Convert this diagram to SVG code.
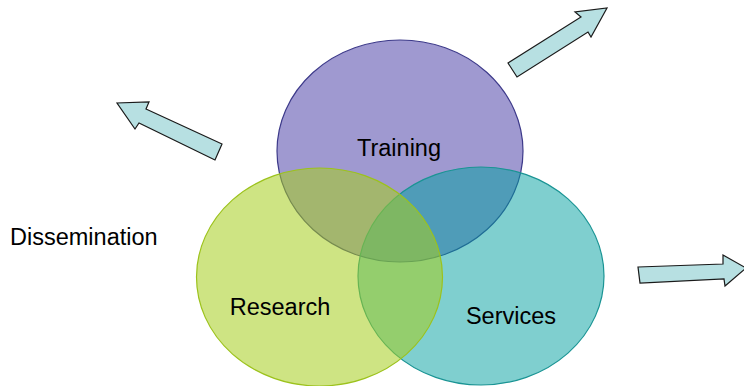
<svg xmlns="http://www.w3.org/2000/svg" width="744" height="386" viewBox="0 0 744 386">
<style>
.lbl{font-family:"Liberation Sans",Arial,sans-serif;font-size:23.5px;fill:#000}
.arr{fill:#b7e0e2;stroke:#1a1a1a;stroke-width:1.2;stroke-linejoin:miter}
</style>
<rect width="744" height="386" fill="#fff"/>
<g id="connectors">
<polygon class="arr" points="215,160 139,123 135,129 117,103 149,102 146,109 222,144"/>
<polygon class="arr" points="508,63 581,17 575,12 607,8 591,37 588,32 517,77"/>
<polygon class="arr" points="638,267 723,264 723,255 746,268 725,286 724,279 640,283"/>
</g>
<g id="training">
<ellipse cx="400" cy="151" rx="123" ry="111" fill="rgb(80,70,170)" fill-opacity="0.55" stroke="#3d3a8a" stroke-width="1.2"/>
</g>
<g id="services">
<ellipse cx="481" cy="276" rx="123" ry="109" fill="rgb(0,160,160)" fill-opacity="0.5" stroke="#1a9494" stroke-width="1.2"/>
</g>
<g id="research">
<ellipse cx="319.5" cy="277" rx="123" ry="109" fill="rgb(165,205,30)" fill-opacity="0.55" stroke="#9cc21c" stroke-width="1.2"/>
</g>
<text class="lbl" x="399" y="156" text-anchor="middle">Training</text>
<text class="lbl" x="280" y="315" text-anchor="middle">Research</text>
<text class="lbl" x="511" y="324" text-anchor="middle">Services</text>
<text class="lbl" x="10" y="245">Dissemination</text>
</svg>
